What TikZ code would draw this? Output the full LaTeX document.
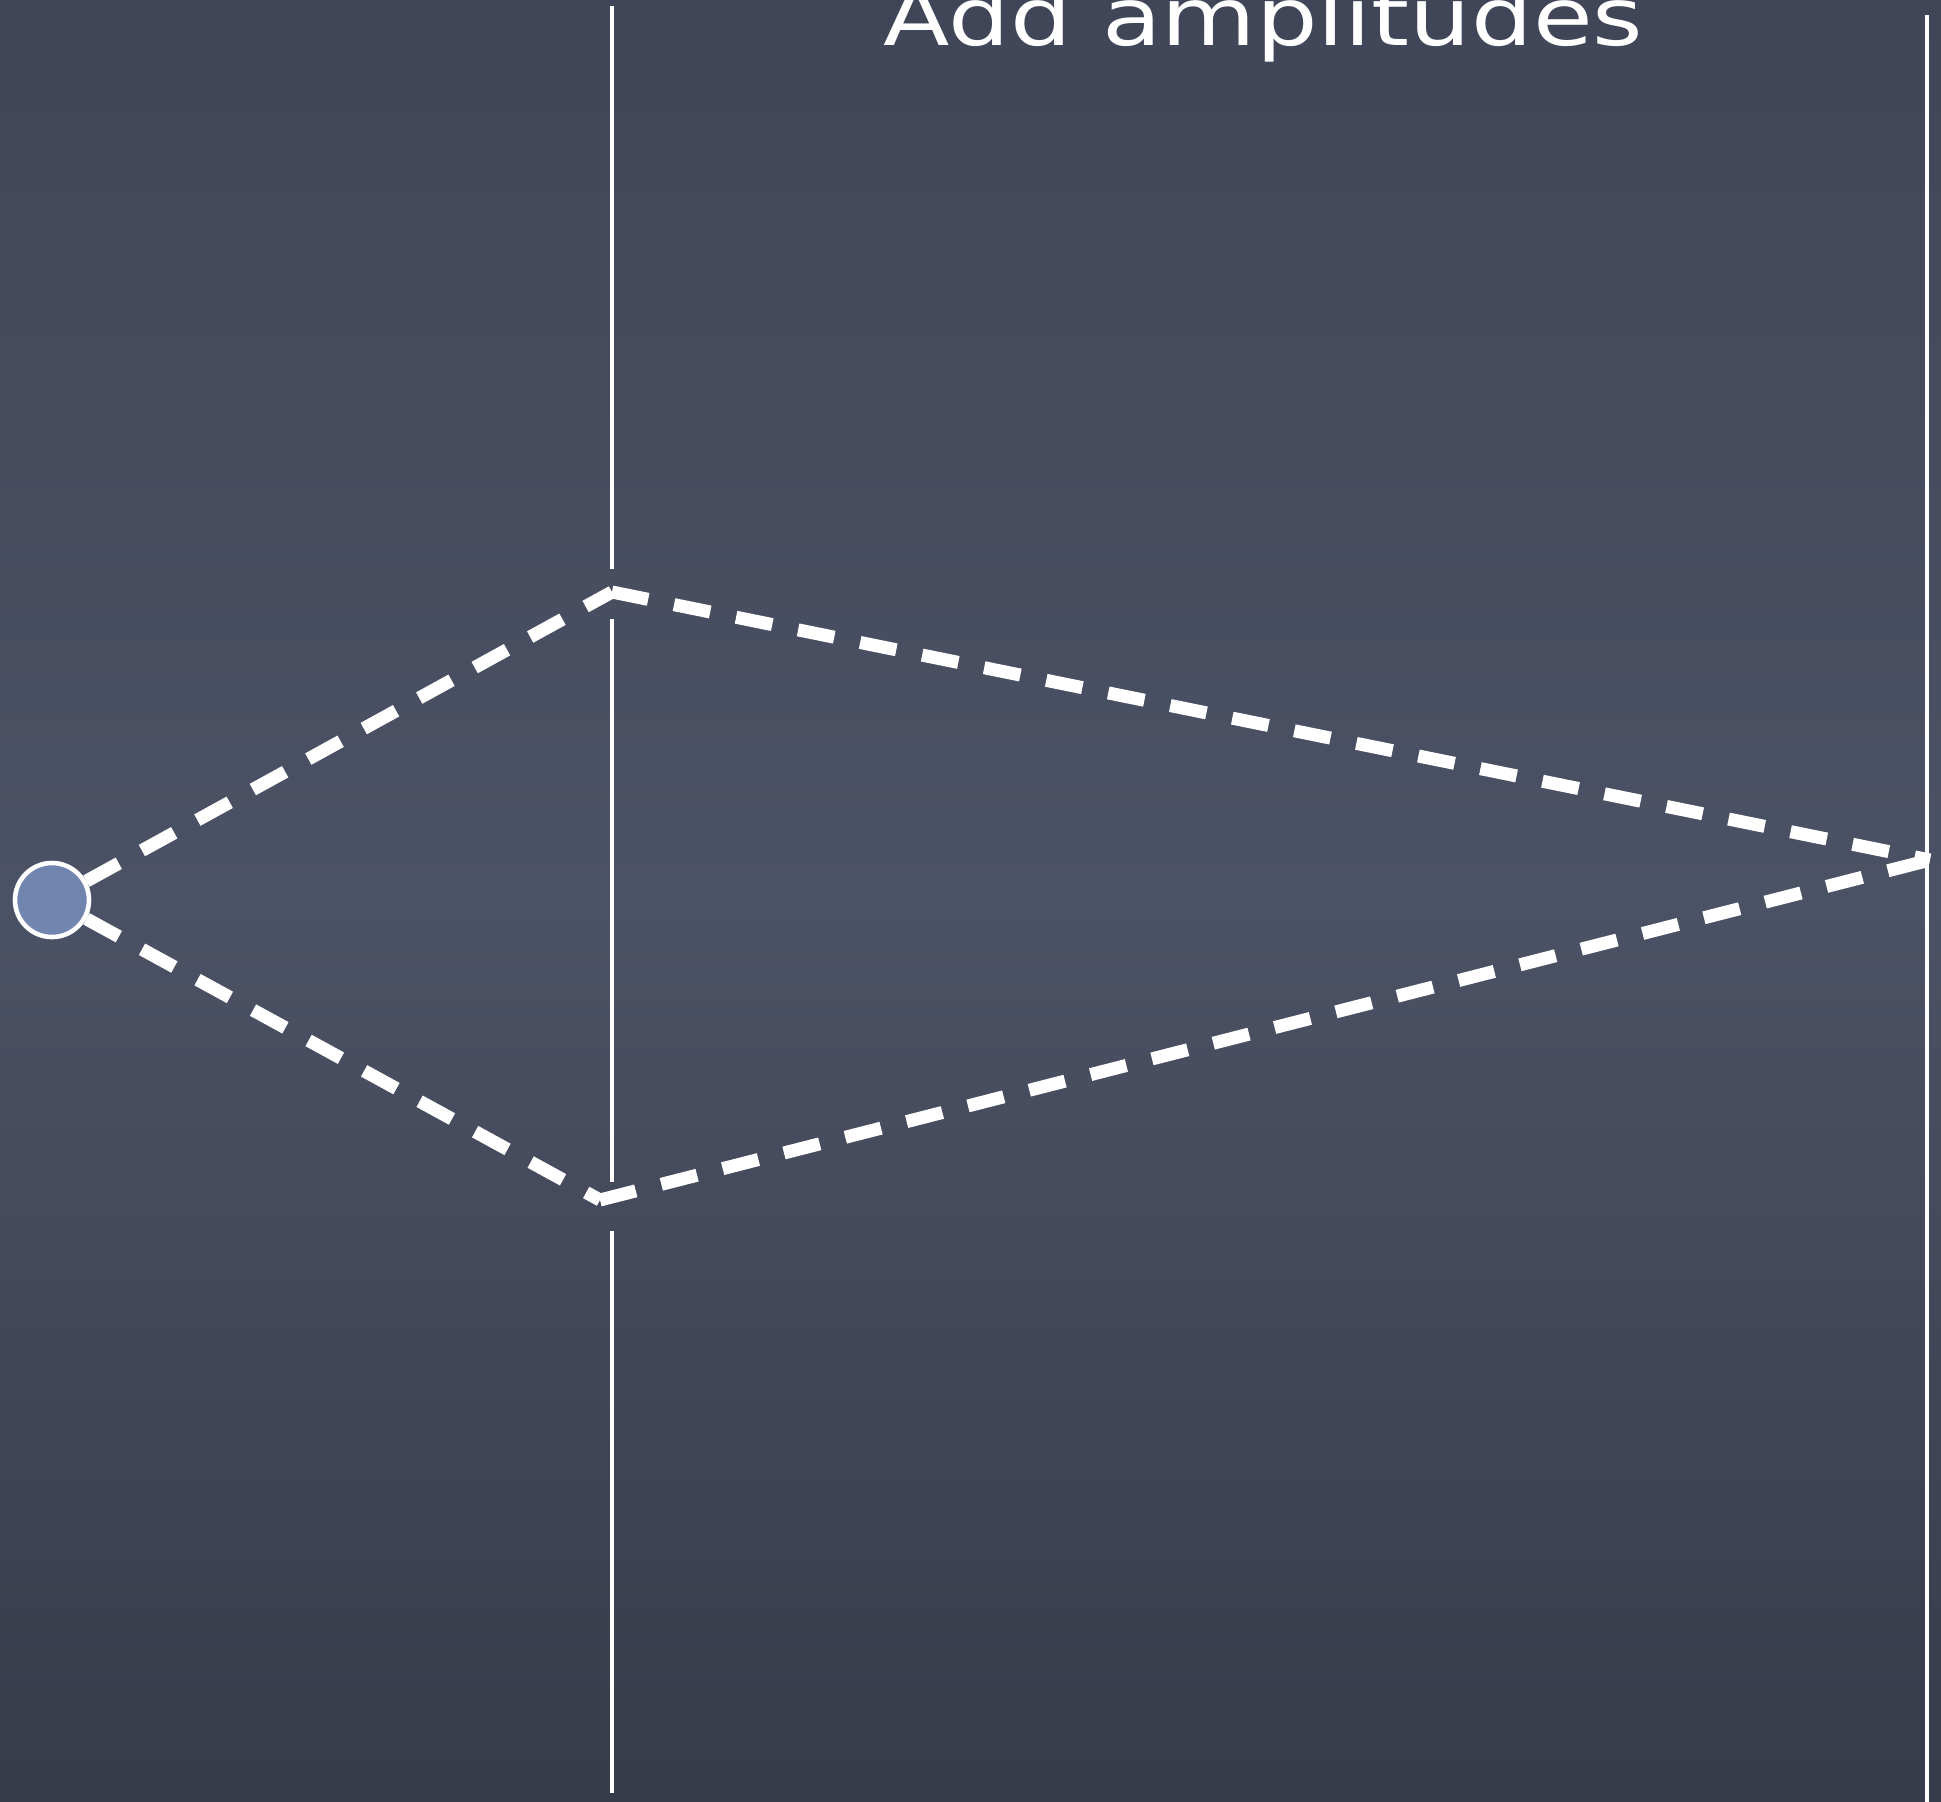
\documentclass[tikz,border=0pt]{standalone}
\usepackage{fontspec}
\setmainfont{DejaVu Sans}
\usepackage{xcolor}
\usepackage{tikz}
\usetikzlibrary{calc}

\definecolor{board}{RGB}{64,70,87}
\definecolor{boardlight}{RGB}{76,82,101}
\definecolor{photon}{RGB}{112,134,176}

\begin{document}
\begin{tikzpicture}[
    x=0.01cm, y=-0.01cm,
    wall/.style={white, line width=1.2pt},
    path/.style={white, line width=3.7pt, dash pattern=on 10.5pt off 7.5pt},
    source/.style={circle, draw=white, line width=1.3pt, fill=photon,
      minimum size=0.74cm, inner sep=0pt},
    every node/.style={font=\fontsize{22.8}{26}\selectfont}
  ]
    \useasboundingbox (0,0) rectangle (1941,1802);
    \clip (0,0) rectangle (1941,1802);
    \shade[top color=board, bottom color=board!85!black, middle color=boardlight]
      (0,0) rectangle (1941,1802);

    \node[white, anchor=base west, inner sep=0pt] (title) at (883,45)
      {\scalebox{1.21}[1]{Add amplitudes}};

    % screens
    \draw[wall] (612,6) -- (612,569);
    \draw[wall] (612,619) -- (612,1182);
    \draw[wall] (612,1231) -- (612,1793);
    \draw[wall] (1927,15) -- (1927,1802);

    \node[source] (src) at (52,900) {};
    \coordinate (slitA) at (612,592);
    \coordinate (slitB) at (600,1200);
    \coordinate (det) at (1930,860);

    \draw[path] (src) -- (slitA);
    \draw[path] (slitA) -- (det);
    \draw[path] (src) -- (slitB);
    \draw[path] (slitB) -- (det);
  \end{tikzpicture}
\end{document}
